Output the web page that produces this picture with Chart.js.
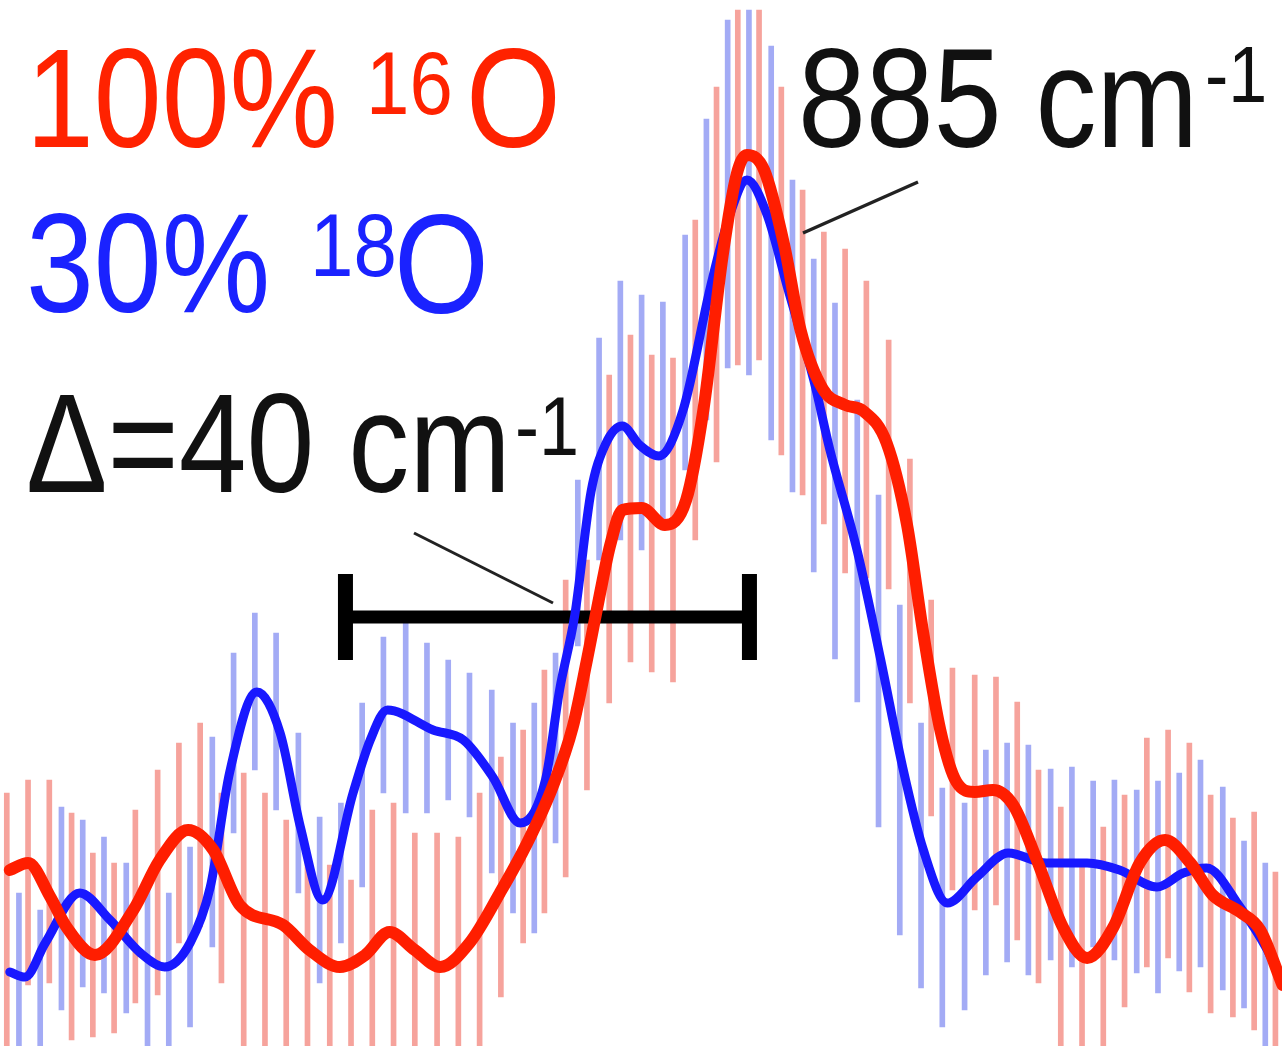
<!DOCTYPE html>
<html>
<head>
<meta charset="utf-8">
<script src="https://cdn.jsdelivr.net/npm/chart.js@4.4.1/dist/chart.umd.min.js"></script>
<style>
  html, body { margin: 0; padding: 0; background: #fff; }
  canvas { display: block; }
</style>
</head>
<body>
<canvas id="spec" width="1282" height="1046"></canvas>
<script>
// channel wavenumbers (cm-1)
const wnRed = [811.6, 813.7, 815.8, 818.0, 820.1, 822.2, 824.3, 826.5, 828.6, 830.7,
  832.8, 835.0, 837.1, 839.2, 841.3, 843.5, 845.6, 847.7, 849.8, 851.9,
  854.1, 856.2, 858.3, 860.4, 862.6, 864.7, 866.8, 868.9, 871.1, 873.2,
  875.3, 877.4, 879.6, 881.7, 883.8, 885.9, 888.1, 890.2, 892.3, 894.4,
  896.5, 898.7, 900.8, 902.9, 905.0, 907.2, 909.3, 911.4, 913.5, 915.7,
  917.8, 919.9, 922.0, 924.2, 926.3, 928.4, 930.5, 932.7, 934.8, 936.9];
const wnBlue = [812.8, 814.9, 817.0, 819.1, 821.2, 823.4, 825.5, 827.6, 829.7, 831.9,
  834.0, 836.1, 838.2, 840.4, 842.5, 844.6, 846.7, 848.8, 851.0, 853.1,
  855.2, 857.3, 859.5, 861.6, 863.7, 865.8, 868.0, 870.1, 872.2, 874.3,
  876.4, 878.6, 880.7, 882.8, 884.9, 887.1, 889.2, 891.3, 893.4, 895.6,
  897.7, 899.8, 901.9, 904.0, 906.2, 908.3, 910.4, 912.5, 914.7, 916.8,
  918.9, 921.0, 923.2, 925.3, 927.4, 929.5, 931.7, 933.8, 935.9];

// error bar ends, 100% 16O
const redLow = [0, 6.1, 6.3, 0.6, 0.9, 1.3, 4.3, 5.1, 10.3, 11.9,
  6.3, 0, 0, 0, 0, 0, 0, 0, 0, 0,
  0, 0, 0, 4.9, 10.3, 13.3, 16.9, 25.6, 34.3, 38.4,
  37.4, 36.4, 50.6, 58.4, 68.1, 68.6, 59.1, 55.1, 52.2, 47.3,
  46.8, 45.7, 34.3, 23.0, 15.6, 13.6, 14.1, 10.6, 6.3, 0,
  0, 0, 3.9, 7.9, 8.8, 5.4, 3.3, 2.9, 1.6, 0];
const redHigh = [25.3, 26.6, 26.6, 23.3, 19.3, 18.3, 23.6, 27.6, 30.3, 32.3,
  25.3, 27.3, 25.3, 22.6, 18.6, 18.1, 16.6, 23.6, 24.3, 21.3,
  21.3, 20.9, 25.3, 28.9, 31.6, 37.6, 46.6, 48.6, 67.1, 71.1,
  69.1, 68.8, 82.6, 95.9, 103.6, 103.6, 95.9, 85.6, 81.4, 79.7,
  76.5, 70.6, 58.7, 44.6, 37.8, 37.1, 36.9, 34.4, 27.6, 23.9,
  17.9, 21.9, 25.1, 30.8, 31.6, 30.3, 25.1, 22.8, 23.4, 17.4];

// error bar ends, 30% 18O
const blueLow = [0, 0, 3.6, 5.9, 5.3, 3.3, 0, 0, 1.9, 9.9,
  21.3, 27.6, 23.6, 15.3, 6.3, 10.3, 15.9, 25.3, 23.3, 23.3,
  24.6, 22.9, 17.3, 13.3, 11.3, 20.3, 40.0, 48.6, 50.6, 49.6,
  51.6, 57.6, 62.6, 67.8, 67.1, 60.6, 55.4, 47.4, 38.7, 34.4,
  21.9, 11.1, 5.8, 1.9, 3.6, 7.1, 8.4, 7.1, 8.6, 7.9,
  9.9, 8.6, 7.3, 5.3, 7.5, 7.9, 5.6, 3.8, 0];
const blueHigh = [15.3, 13.6, 23.9, 22.6, 20.9, 18.3, 16.9, 15.3, 19.9, 30.9,
  39.3, 43.3, 41.3, 31.3, 22.9, 24.3, 34.3, 40.9, 42.3, 40.3,
  38.6, 37.3, 35.6, 32.3, 34.3, 39.3, 56.6, 70.8, 76.5, 75.1,
  74.4, 81.1, 92.7, 102.6, 103.6, 100.0, 86.6, 78.7, 74.3, 64.6,
  55.1, 44.1, 32.3, 25.8, 24.3, 29.6, 30.3, 30.1, 27.7, 27.9,
  26.5, 26.6, 25.6, 26.5, 27.3, 28.6, 25.9, 20.5, 18.3];

// smoothed traces
const redFitX = [811.9, 813.7, 815.9, 817.5, 820.3, 824.1, 826.7, 829.5, 832.0, 834.6,
  838.9, 841.5, 844.5, 847.0, 849.4, 851.9, 854.4, 857.3, 860.3, 863.0,
  865.5, 867.5, 868.9, 870.2, 871.2, 872.4, 874.3, 876.6, 878.7, 880.4,
  882.3, 883.7, 884.7, 886.4, 888.4, 890.0, 892.2, 894.4, 896.2, 898.5,
  900.5, 902.1, 903.8, 905.4, 907.2, 909.0, 911.0, 913.3, 915.9, 918.3,
  920.9, 923.5, 926.0, 928.5, 930.7, 933.4, 935.4, 937.6];
const redFitY = [17.6, 18.3, 14.9, 11.9, 9.1, 13.6, 18.6, 21.6, 19.6, 14.1,
  12.1, 9.6, 7.9, 9.1, 11.4, 9.6, 7.9, 10.3, 15.3, 20.3,
  25.9, 31.9, 38.6, 45.3, 50.1, 53.6, 53.8, 52.1, 54.6, 63.6,
  79.0, 87.2, 89.1, 87.6, 80.0, 71.6, 65.7, 64.1, 63.5, 60.3,
  52.2, 41.4, 31.6, 26.4, 25.4, 25.6, 24.1, 18.7, 11.9, 8.8,
  11.9, 18.3, 20.6, 18.3, 15.1, 13.4, 11.6, 6.1];
const blueFitX = [811.9, 813.4, 815.4, 818.8, 821.8, 824.8, 827.2, 829.7, 831.7, 833.6,
  836.3, 838.6, 840.6, 842.8, 845.8, 847.5, 849.2, 853.7, 856.7, 859.6,
  862.3, 864.8, 866.2, 867.7, 869.3, 870.7, 872.4, 874.1, 876.0, 878.4,
  881.1, 883.0, 884.7, 886.7, 888.7, 891.3, 892.9, 895.6, 897.9, 900.1,
  902.1, 904.5, 907.4, 910.5, 914.3, 918.3, 921.5, 925.2, 927.8, 930.1,
  933.4, 936.1, 937.6];
const blueFitY = [7.4, 6.9, 10.3, 15.3, 12.6, 9.3, 7.9, 10.3, 15.9, 27.3,
  35.4, 31.3, 21.9, 14.6, 25.3, 30.6, 33.6, 31.6, 30.6, 26.9,
  22.3, 26.6, 35.6, 43.1, 55.4, 60.1, 62.0, 60.1, 59.0, 63.6,
  75.9, 83.1, 86.6, 83.1, 75.9, 66.6, 59.6, 49.5, 38.7, 27.8,
  19.7, 14.3, 16.9, 19.3, 18.3, 18.3, 17.6, 15.9, 17.3, 17.8,
  13.9, 9.6, 6.3];

// isotope shift marker
const shiftFrom = 845, shiftTo = 885, shiftLevel = 42.9;

const zip = (xs, ys) => xs.map((x, i) => ({ x: x, y: ys[i] }));
const zipBars = (xs, lo, hi) => xs.map((x, i) => ({ x: x, y: [lo[i], hi[i]] }));

const FONT = '"Liberation Sans", Arial, Helvetica, sans-serif';
function stretchText(ctx, s, x, y, size, color) {
    ctx.save();
    ctx.translate(x, y);
    ctx.scale(1, 1.15);
    ctx.font = size + 'px ' + FONT;
    ctx.fillStyle = color;
    ctx.textBaseline = 'alphabetic';
    ctx.fillText(s, 0, 0);
    ctx.restore();
}
function segment(ctx, x1, y1, x2, y2, w, color) {
    ctx.save();
    ctx.strokeStyle = color;
    ctx.lineWidth = w;
    ctx.beginPath();
    ctx.moveTo(x1, y1);
    ctx.lineTo(x2, y2);
    ctx.stroke();
    ctx.restore();
}

const labels = {
    id: 'labels',
    afterDatasetDraw(chart, args) {
        if (args.index !== 2) return;  // after the red error bars, under the traces
        const ctx = chart.ctx, xs = chart.scales.x, ys = chart.scales.y;
        const x1 = xs.getPixelForValue(shiftFrom), x2 = xs.getPixelForValue(shiftTo);
        const yb = ys.getPixelForValue(shiftLevel);
        const capTop = ys.getPixelForValue(shiftLevel + 4.3), capBot = ys.getPixelForValue(shiftLevel - 4.3);
        ctx.save();
        ctx.fillStyle = '#000';
        ctx.fillRect(x1, yb - 6.5, x2 - x1, 13);
        ctx.fillRect(x1 - 7, capTop, 15, capBot - capTop);
        ctx.fillRect(x2 - 8, capTop, 15, capBot - capTop);
        ctx.restore();
        segment(ctx, 414, 533, 553, 603, 3, '#222');
    },
    afterDraw(chart) {
        const ctx = chart.ctx;
        stretchText(ctx, '100%', 26, 147, 122, '#ff2200');
        stretchText(ctx, '16', 366, 114, 78, '#ff2200');
        stretchText(ctx, 'O', 466, 147, 122, '#ff2200');

        stretchText(ctx, '30%', 26, 312, 122, '#1a22ff');
        stretchText(ctx, '18', 310, 276, 78, '#1a22ff');
        stretchText(ctx, 'O', 394, 313, 122, '#1a22ff');

        stretchText(ctx, 'Δ=40 cm', 26, 492, 122, '#111');
        stretchText(ctx, '-1', 515, 455, 72, '#111');

        stretchText(ctx, '885 cm', 798, 147, 122, '#111');
        stretchText(ctx, '-1', 1205, 102, 70, '#111');
        segment(ctx, 918, 182, 803, 233, 3.5, '#222');
    }
};

new Chart(document.getElementById('spec'), {
    type: 'line',
    data: {
        datasets: [{
            label: '100% 16O',
            data: zip(redFitX, redFitY),
            borderColor: '#ff1e00',
            borderWidth: 12,
            pointRadius: 0,
            cubicInterpolationMode: 'monotone',
            borderCapStyle: 'round',
            borderJoinStyle: 'round',
            order: 0
        }, {
            label: '30% 18O',
            data: zip(blueFitX, blueFitY),
            borderColor: '#1818ff',
            borderWidth: 9,
            pointRadius: 0,
            cubicInterpolationMode: 'monotone',
            borderCapStyle: 'round',
            borderJoinStyle: 'round',
            order: 1
        }, {
            type: 'bar',
            label: '100% 16O error',
            data: zipBars(wnRed, redLow, redHigh),
            backgroundColor: '#f6a39c',
            borderWidth: 0,
            barThickness: 5,
            grouped: false,
            order: 2
        }, {
            type: 'bar',
            label: '30% 18O error',
            data: zipBars(wnBlue, blueLow, blueHigh),
            backgroundColor: '#a3abf5',
            borderWidth: 0,
            barThickness: 5,
            grouped: false,
            order: 3
        }]
    },
    options: {
        responsive: false,
        animation: false,
        events: [],
        devicePixelRatio: 1,
        layout: { padding: 0 },
        plugins: { legend: { display: false }, tooltip: { enabled: false } },
        scales: {
            x: { type: 'linear', min: 810.93, max: 937.55, offset: false, display: false },
            y: { type: 'linear', min: 0, max: 104.6, display: false }
        }
    },
    plugins: [labels]
});
</script>
</body>
</html>
